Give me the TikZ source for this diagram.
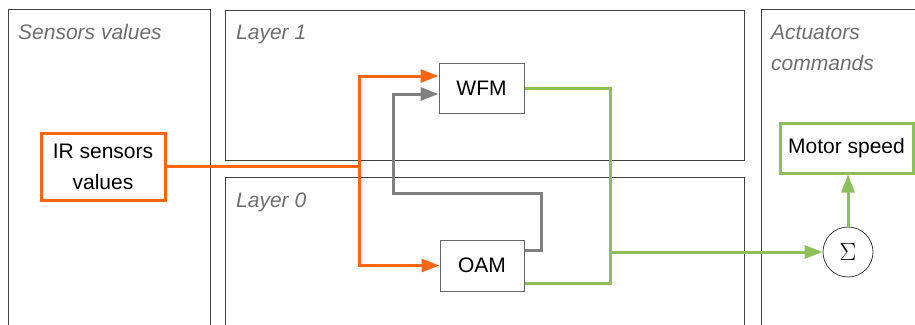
\documentclass[tikz,border=0pt]{standalone}
\usepackage{fontspec}
\setmainfont{Liberation Sans}
\usetikzlibrary{arrows.meta,positioning,calc}
\definecolor{orng}{HTML}{FF6611}
\definecolor{lgreen}{HTML}{8FBF5C}
\definecolor{wgray}{HTML}{808080}
\definecolor{frame}{HTML}{404040}
\definecolor{lbltxt}{HTML}{6E6E6E}
\tikzset{
  panel/.style={draw=frame, line width=0.9pt},
  plbl/.style={anchor=base west, inner sep=0pt, text=lbltxt,
               font=\fontsize{21}{31}\selectfont\itshape},
  mbox/.style={draw=#1, rectangle, text=black, align=center, inner sep=0pt},
  flow/.style={-{Triangle[length=18pt,width=13pt]}, line width=3pt, draw=#1},
  wire/.style={line width=3pt, draw=#1}
}

\begin{document}
\begin{tikzpicture}[x=1pt, y=-1pt, font=\fontsize{21}{31}\selectfont]
  \clip (0,0) rectangle (915,324);
  % panels
  \draw[panel] (8,9) rectangle (210,340);
  \draw[panel] (225,10) rectangle (744,160);
  \draw[panel] (225,177) rectangle (744,340);
  \draw[panel] (761,9) rectangle (940,340);
  \node[plbl] (lsens) at (18,39) {Sensors values};
  \node[plbl] (lone) at (236,39) {Layer 1};
  \node[plbl] (lzero) at (236,207) {Layer 0};
  \node[plbl] (lact) at (771,39) {Actuators};
  \node[plbl] (lact2) at (771,70) {commands};
  % blocks
  \node[mbox=orng, line width=3pt, minimum width=124pt, minimum height=67pt] (ir)
    at (103,166.5) {IR sensors\\values};
  \node[mbox=frame!80, line width=1pt, minimum width=85pt, minimum height=50pt] (wfm)
    at (481.5,88) {WFM};
  \node[mbox=frame!80, line width=1pt, minimum width=84pt, minimum height=51pt] (oam)
    at (482,265.5) {OAM};
  \node[mbox=lgreen, line width=3pt, minimum width=133pt, minimum height=50pt] (motor)
    at (846.5,148) {Motor speed};
  \node[circle, draw=frame, line width=0.8pt, minimum size=50pt, inner sep=0pt,
        font=\fontsize{24}{24}\selectfont] (sum) at (848,252) {$\Sigma$};
  % connectors
  \coordinate (obus) at (359,166.5);
  \coordinate (gtop) at (541,193);
  \coordinate (gleft) at (393,193);
  \coordinate (gbus) at (610,252);
  \draw[wire=orng] (ir.east) -- (obus);
  \draw[flow=orng] (obus) |- ([yshift=12pt]wfm.west);
  \draw[flow=orng] (obus) |- (oam.west);
  \draw[flow=wgray] ([yshift=15pt]oam.east) -| (gtop) -- (gleft) |- ([yshift=-6pt]wfm.west);
  \draw[wire=lgreen] (wfm.east) -| (gbus);
  \draw[wire=lgreen] ([yshift=-17.5pt]oam.east) -| (gbus);
  \draw[flow=lgreen] (gbus) -- (sum.west);
  \draw[flow=lgreen] (sum.north) -- (sum.north |- motor.south);
\end{tikzpicture}
\end{document}
